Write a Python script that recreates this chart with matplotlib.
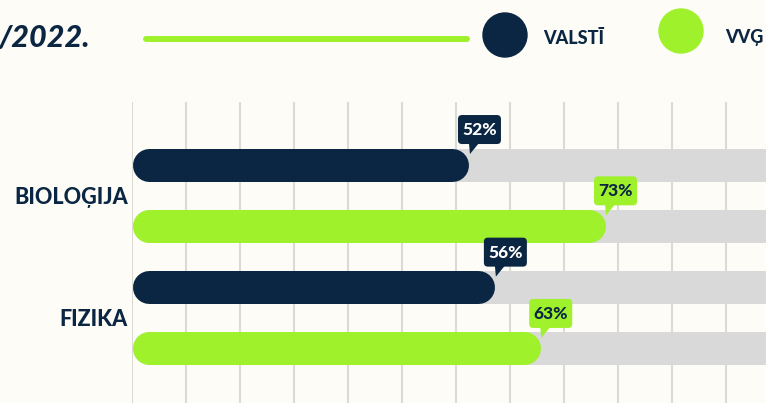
import numpy as np
import matplotlib
matplotlib.use("Agg")
import matplotlib.pyplot as plt
from matplotlib.patches import FancyBboxPatch, Polygon, Circle
from matplotlib.transforms import IdentityTransform

# data
subjects = ["BIOLOĢIJA", "FIZIKA"]
valsti = [52, 56]
vvg = [73, 63]
series_names = ["VALSTĪ", "VVĢ"]
title_text = "/2022."

NAVY = "#0b2642"
GREEN = "#9ff22b"
TRACK = "#d9d9d9"
BG = "#fdfcf7"
GRID = "#dcdad4"

plt.rcParams['font.family'] = ['Lato', 'DejaVu Sans']

W, H = 766, 403
fig = plt.figure(figsize=(W / 100, H / 100), dpi=100, facecolor=BG)

# main chart axes (0..100 % runs from x=132px to x=780px, partly off-canvas)
ax = fig.add_axes([132 / W, 0, 648 / W, 301 / H])
ax.patch.set_visible(False)
ax.set_xlim(0, 100)
ax.set_ylim(3.89, -1.02)

bar_px = 33
bar_lw = bar_px * 72 / 100
r = (bar_px / 2) * 100 / 648  # cap radius in data units

rows = []
for i, subj in enumerate(subjects):
    rows.append((2 * i, valsti[i], NAVY, "white"))
    rows.append((2 * i + 1, vvg[i], GREEN, NAVY))

for row, v, col, tcol in rows:
    ax.plot([r, 100 - r], [row, row], color=TRACK, lw=bar_lw,
            solid_capstyle="round", zorder=2)
    ax.plot([r, v - r], [row, row], color=col, lw=bar_lw,
            solid_capstyle="round", zorder=3)

ax.set_xticks(np.linspace(0, 100, 13))
ax.grid(axis="x", color=GRID, lw=1.5, zorder=0)
ax.set_axisbelow(True)
ax.set_yticks([0.5, 2.5])
ax.set_yticklabels(subjects, fontsize=15.5, fontweight="black", color=NAVY)
ax.tick_params(length=0, labelbottom=False, pad=3)
for s in ax.spines.values():
    s.set_visible(False)

# value callouts
for row, v, col, tcol in rows:
    xd, yd = ax.transData.transform((v, row))
    left = xd - 11
    bottom = yd + bar_px / 2 + 4
    box = FancyBboxPatch((left, bottom), 43, 29,
                         boxstyle="round,pad=0,rounding_size=4",
                         transform=IdentityTransform(), facecolor=col,
                         edgecolor="none", zorder=5, clip_on=False)
    ax.add_patch(box)
    tri = Polygon([(left + 11, bottom + 1), (left + 21, bottom + 1),
                   (left + 12, bottom - 10)], closed=True,
                  transform=IdentityTransform(), facecolor=col,
                  edgecolor="none", zorder=5, clip_on=False)
    ax.add_patch(tri)
    ax.text(left + 21.5, bottom + 14, f"{v}%", transform=IdentityTransform(),
            ha="center", va="center", fontsize=12.5, fontweight="black",
            color=tcol, zorder=6, clip_on=False)

# header overlay in pixel coordinates
over = fig.add_axes([0, 0, 1, 1])
over.set_xlim(0, W)
over.set_ylim(H, 0)
over.axis("off")
over.patch.set_visible(False)

over.text(-1, 38, title_text, fontsize=22, fontweight="black", style="italic",
          color=NAVY, ha="left", va="center")
over.plot([146, 467], [39, 39], color=GREEN, lw=4.3, solid_capstyle="round")
over.add_patch(Circle((505, 35), 22, color=NAVY))
over.text(543, 38, series_names[0], fontsize=13, fontweight="black",
          color=NAVY, ha="left", va="center")
over.add_patch(Circle((681, 31), 22, color=GREEN))
over.text(725, 38, series_names[1], fontsize=13, fontweight="black",
          color=NAVY, ha="left", va="center")

fig.savefig("out.png", dpi=100, facecolor=BG)
